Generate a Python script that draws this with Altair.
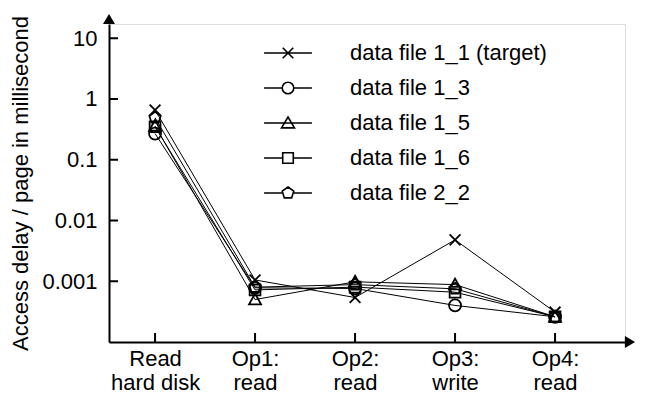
import altair as alt
import pandas as pd

categories = ["Read|hard disk", "Op1:|read", "Op2:|read", "Op3:|write", "Op4:|read"]
series_names = ["data file 1_1 (target)", "data file 1_3", "data file 1_5",
                "data file 1_6", "data file 2_2"]
s_1_1 = [0.66, 0.00105, 0.00054, 0.0048, 0.00031]
s_1_3 = [0.27, 0.00078, 0.00076, 0.00040, 0.00026]
s_1_5 = [0.36, 0.00050, 0.00098, 0.00088, 0.00026]
s_1_6 = [0.35, 0.00072, 0.00080, 0.00066, 0.00026]
s_2_2 = [0.49, 0.00080, 0.00088, 0.00075, 0.00026]
y_ticks = [0.001, 0.01, 0.1, 1, 10]

all_series = [s_1_1, s_1_3, s_1_5, s_1_6, s_2_2]
rows = []
for name, vals in zip(series_names, all_series):
    for c, v in zip(categories, vals):
        rows.append({"series": name, "cat": c, "value": v})
df = pd.DataFrame(rows)

FONT = "Liberation Sans"
FS = 22
W, H = 516, 318

plot_shapes = [
    "M-0.9,-0.9L0.9,0.9M-0.9,0.9L0.9,-0.9",
    "M1,0A1,1,0,1,1,-1,0A1,1,0,1,1,1,0Z",
    "M0,-1L1,0.8L-1,0.8Z",
    "M-0.9,-0.9H0.9V0.9H-0.9Z",
    "M0,-1L0.951,-0.309L0.588,0.809L-0.588,0.809L-0.951,-0.309Z",
]
legend_shapes = [
    "M-1.04,0H1.04M-0.23,-0.23L0.23,0.23M-0.23,0.23L0.23,-0.23",
    "M-1.04,0H-0.25M0.25,0H1.04M0.25,0A0.25,0.25,0,1,1,-0.25,0A0.25,0.25,0,1,1,0.25,0Z",
    "M-1.04,0H1.04M0,-0.26L0.28,0.21L-0.28,0.21Z",
    "M-1.04,0H-0.23M0.23,0H1.04M-0.23,-0.23H0.23V0.23H-0.23Z",
    "M-1.04,0H-0.26M0.26,0H1.04M0,-0.26L0.25,-0.08L0.16,0.21L-0.16,0.21L-0.25,-0.08Z",
]
arrow_shapes = ["M0,-0.85L1,0.85L-1,0.85Z", "M0.85,0L-0.85,1L-0.85,-1Z"]

x_scale = alt.Scale(type="point", domain=categories, align=0.397, padding=0.58)
y_scale = alt.Scale(type="log", domain=[1e-4, 17.16], nice=False)

x_enc = alt.X("cat:O", sort=categories, scale=x_scale,
              axis=alt.Axis(title=None, labelAngle=0, ticks=False, domainColor="black",
                            domainWidth=2, labelFont=FONT, labelFontSize=FS, labelColor="black",
                            labelExpr="split(datum.label, '|')", labelLineHeight=24,
                            labelPadding=6, labelBaseline="top"))
y_enc = alt.Y("value:Q", scale=y_scale,
              axis=alt.Axis(title="Access delay / page in millisecond", values=y_ticks,
                            format="~g", ticks=False, grid=False, domainColor="black",
                            domainWidth=2, labelFont=FONT, labelFontSize=FS,
                            labelColor="black", labelPadding=12, titleFont=FONT,
                            titleFontSize=FS, titleFontWeight="normal", titleColor="black",
                            titlePadding=9))

base = alt.Chart(df)
lines = base.mark_line(color="black", strokeWidth=1).encode(x=x_enc, y=y_enc, detail="series:N")
points = base.mark_point(filled=False, color="black", strokeWidth=1.8, size=144, opacity=1).encode(
    x=x_enc, y=y_enc,
    shape=alt.Shape("series:N", scale=alt.Scale(domain=series_names, range=plot_shapes), legend=None))
legend_layer = base.transform_filter("false").mark_point(
    filled=False, color="black", strokeWidth=1.6, size=2116, opacity=1).encode(
    x=x_enc, y=y_enc,
    shape=alt.Shape("series2:N", scale=alt.Scale(domain=series_names, range=legend_shapes),
                    legend=alt.Legend(title=None, orient="none", legendX=155, legendY=5,
                                      padding=0, labelOffset=38, rowPadding=0,
                                      symbolSize=2116, symbolStrokeWidth=1.6,
                                      symbolStrokeColor="black", labelFont=FONT,
                                      labelFontSize=FS, labelColor="black",
                                      labelLimit=400)))

tick_df = pd.DataFrame({"v": y_ticks})
ytick = alt.Chart(tick_df).mark_rule(color="black", strokeWidth=2).encode(
    y=alt.Y("v:Q", scale=y_scale), x=alt.value(0), x2=alt.value(9))
xtick_df = pd.DataFrame({"cat": categories})
xtick = alt.Chart(xtick_df).mark_rule(color="black", strokeWidth=2).encode(
    x=alt.X("cat:O", sort=categories, scale=x_scale),
    y=alt.value(H), y2=alt.value(H - 9))

arrow_df = pd.DataFrame({"k": ["up", "right"], "px": [0, W + 5], "py": [-5, H]})
arrows = alt.Chart(arrow_df).mark_point(filled=True, color="black", opacity=1,
                                        strokeWidth=1, size=144).encode(
    x=alt.X("px:Q", scale=None), y=alt.Y("py:Q", scale=None),
    shape=alt.Shape("k:N", scale=alt.Scale(domain=["up", "right"], range=arrow_shapes),
                    legend=None))

chart = alt.layer(lines, points, legend_layer, ytick, xtick, arrows).resolve_scale(
    shape="independent").properties(
    width=W, height=H, autosize=alt.AutoSizeParams(type="none"),
    padding={"left": 101, "top": 16, "right": 14, "bottom": 60}
).configure_view(stroke=None).configure(background="white")

chart.save("out.html", embed_options={"renderer": "svg", "actions": False})
